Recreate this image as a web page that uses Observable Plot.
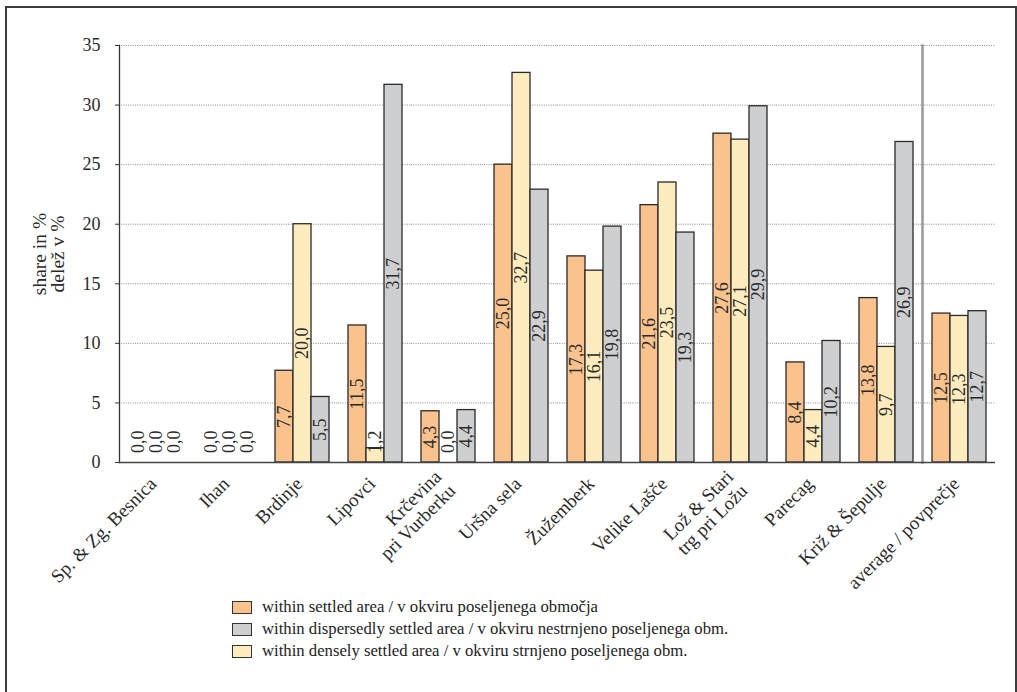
<!DOCTYPE html>
<html><head><meta charset="utf-8">
<script src="https://cdn.jsdelivr.net/npm/d3@7"></script>
<script src="https://cdn.jsdelivr.net/npm/@observablehq/plot@0.6"></script>
<style>
body{margin:0;background:#fff;font-family:"Liberation Serif",serif;}
#wrap{position:relative;width:1017px;height:692px;overflow:hidden;}
#frame{position:absolute;left:5px;top:6px;width:1012px;height:720px;border:2px solid #3c3c3c;box-sizing:border-box;}
#chart{position:absolute;left:0;top:0;}
#legend{position:absolute;left:232px;top:596px;font-size:16.7px;color:#222;}
.row{display:flex;align-items:center;height:22px;}
.sw{width:20px;height:13px;border:1px solid #333;box-sizing:border-box;margin-right:10px;}
</style></head><body>
<div id="wrap"><div id="frame"></div><div id="chart"></div><div id="legend"></div></div>
<script>
const groups = ["Sp. & Zg. Besnica", "Ihan", "Brdinje", "Lipovci", "Krčevina\npri Vurberku", "Uršna sela", "Žužemberk", "Velike Lašče", "Lož & Stari\ntrg pri Ložu", "Parecag", "Križ & Šepulje", "average / povprečje"];
const settled   = [0.0, 0.0, 7.7, 11.5, 4.3, 25.0, 17.3, 21.6, 27.6, 8.4, 13.8, 12.5];
const dense     = [0.0, 0.0, 20.0, 1.2, 0.0, 32.7, 16.1, 23.5, 27.1, 4.4, 9.7, 12.3];
const dispersed = [0.0, 0.0, 5.5, 31.7, 4.4, 22.9, 19.8, 19.3, 29.9, 10.2, 26.9, 12.7];
const seriesKeys = ["settled", "dense", "dispersed"];
const seriesColors = ["#FAC28C", "#FFECBE", "#CECFD1"];
const legendOrder = ["settled", "dispersed", "dense"];
const legendLabels = {
  settled: "within settled area / v okviru poseljenega območja",
  dispersed: "within dispersedly settled area / v okviru nestrnjeno poseljenega obm.",
  dense: "within densely settled area / v okviru strnjeno poseljenega obm."
};
const yTicks = [0, 5, 10, 15, 20, 25, 30, 35];
const yTitle = "share in %\ndelež v %";

const valuesBySeries = {settled, dense, dispersed};
const rows = groups.flatMap((g, i) => seriesKeys.map(k => ({group: g, series: k, value: valuesBySeries[k][i]})));

const plot = Plot.plot({
  width: 1017, height: 600,
  marginLeft: 114, marginRight: 17, marginTop: 45, marginBottom: 138,
  style: {fontFamily: "Liberation Serif", fontSize: "18px", color: "#2a2a2a", background: "transparent"},
  fx: {domain: groups, padding: 0, axis: null},
  x: {domain: seriesKeys, paddingInner: 0, paddingOuter: 0.51, axis: null},
  y: {domain: [0, 35], axis: null},
  color: {domain: seriesKeys, range: seriesColors},
  marks: [
    Plot.gridY(yTicks.filter(t => t > 0), {stroke: "#8a8a8a", strokeOpacity: 1, strokeDasharray: "1,1.3"}),
    Plot.axisY(yTicks, {tickSize: 4, tickPadding: 15, fontSize: 18, label: null, facetAnchor: "left", stroke: "#333"}),
    Plot.frame({anchor: "left", facetAnchor: "left", stroke: "#333", strokeWidth: 1.3}),
    Plot.barY(rows.filter(d => d.value > 0), {fx: "group", x: "series", y: "value", fill: "series", stroke: "#2a2a2a", strokeWidth: 1.3}),
    Plot.frame({anchor: "left", facetAnchor: "right", stroke: "#9b9b9b", strokeWidth: 2.6}),
    Plot.ruleY([0], {stroke: "#444", strokeWidth: 1.3}),
    Plot.text(rows, {fx: "group", x: "series", y: d => Math.max(d.value / 2, 1.75), text: d => d.value.toFixed(1).replace(".", ","), rotate: -90, fontSize: 18, fill: "#2a2a2a"}),
    Plot.text(groups, {fx: d => d, text: d => d, frameAnchor: "bottom", textAnchor: "end", lineAnchor: "middle", rotate: -45, dx: -3, dy: 18, fontSize: 19, lineHeight: 1.05, fill: "#2a2a2a"}),
    Plot.text([yTitle], {frameAnchor: "left", facetAnchor: "left", textAnchor: "middle", lineAnchor: "middle", rotate: -90, dx: -70, fontSize: 19.5, lineHeight: 0.9, fill: "#2a2a2a"})
  ]
});
document.getElementById("chart").appendChild(plot);

const legend = document.getElementById("legend");
legendOrder.forEach(k => {
  const row = document.createElement("div");
  row.className = "row";
  const sw = document.createElement("div");
  sw.className = "sw";
  sw.style.background = seriesColors[seriesKeys.indexOf(k)];
  const lab = document.createElement("span");
  lab.textContent = legendLabels[k];
  row.appendChild(sw); row.appendChild(lab);
  legend.appendChild(row);
});
</script>
</body></html>
